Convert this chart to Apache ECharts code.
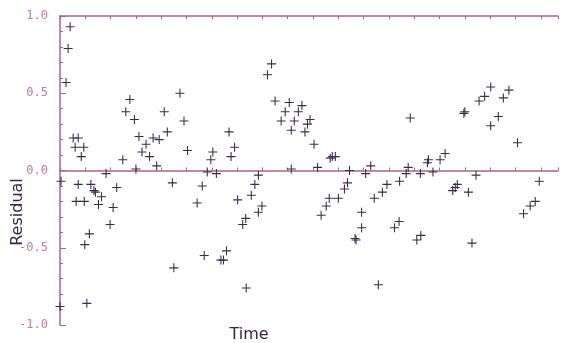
<!DOCTYPE html>
<html>
<head>
<meta charset="utf-8">
<script src="https://cdn.jsdelivr.net/npm/echarts@6/dist/echarts.min.js"></script>
<style>
  html, body { margin: 0; padding: 0; background: #fff; }
  #chart { width: 562px; height: 343px; }
</style>
</head>
<body>
<div id="chart"></div>
<script>
// residuals, in time order
const time = [
  0.0, 0.2, 1.2, 1.6, 2.0, 2.6, 3.0, 3.2, 3.6, 3.6, 4.2, 4.7, 4.8, 4.9, 5.3, 5.8,
  6.1, 6.7, 7.0, 7.6, 8.2, 9.1, 9.9, 10.5, 11.2, 12.4, 13.0, 13.8, 14.7, 15.0, 15.6,
  16.2, 17.0, 17.7, 18.4, 19.1, 19.6, 20.6, 21.2, 22.2, 22.5, 23.7, 24.5, 25.2,
  27.1, 28.1, 28.5, 29.1, 29.8, 30.2, 30.9, 31.8, 32.3, 32.9, 33.4, 33.8, 34.5,
  35.1, 36.1, 36.7, 36.8, 37.8, 38.5, 39.2, 39.2, 39.9, 41.0, 41.8, 42.5, 43.7,
  44.5, 45.3, 45.7, 45.7, 46.3, 47.1, 47.8, 48.4, 48.9, 49.4, 50.2, 50.9, 51.6,
  52.6, 53.2, 53.4, 53.8, 54.4, 55.0, 56.2, 56.8, 57.2, 58.3, 58.5, 59.6, 59.6,
  60.4, 61.4, 62.1, 62.9, 63.7, 64.6, 66.1, 67.0, 67.1, 68.4, 68.8, 69.2, 70.5,
  71.2, 71.3, 72.6, 72.8, 73.7, 75.1, 76.1, 77.6, 78.1, 78.5, 79.8, 80.0, 80.7,
  81.4, 82.2, 82.8, 83.9, 85.1, 85.1, 86.6, 87.6, 88.7, 90.4, 91.6, 92.9, 93.9, 94.7
];
const residual = [
  -0.88, -0.07, 0.57, 0.79, 0.93, 0.21, 0.15, -0.20, 0.21, -0.09, 0.09, 0.15, -0.20, -0.48, -0.86, -0.41,
  -0.09, -0.13, -0.14, -0.22, -0.17, -0.02, -0.35, -0.24, -0.11, 0.07, 0.38, 0.46, 0.33, 0.01, 0.22,
  0.12, 0.17, 0.09, 0.21, 0.03, 0.20, 0.38, 0.25, -0.08, -0.63, 0.50, 0.32, 0.13,
  -0.21, -0.10, -0.55, -0.01, 0.07, 0.12, -0.02, -0.58, -0.58, -0.52, 0.25, 0.09, 0.15,
  -0.19, -0.35, -0.31, -0.76, -0.16, -0.09, -0.03, -0.27, -0.23, 0.62, 0.69, 0.45, 0.32,
  0.38, 0.44, 0.26, 0.01, 0.32, 0.38, 0.42, 0.25, 0.30, 0.33, 0.17, 0.02, -0.29,
  -0.23, -0.18, 0.08, 0.09, 0.09, -0.18, -0.12, -0.08, 0.00, -0.44, -0.45, -0.27, -0.37,
  -0.02, 0.03, -0.18, -0.74, -0.14, -0.09, -0.37, -0.33, -0.07, -0.02, 0.02, 0.34, -0.45,
  -0.02, -0.42, 0.05, 0.07, -0.01, 0.07, 0.11, -0.13, -0.11, -0.09, 0.37, 0.38, -0.14,
  -0.47, -0.03, 0.45, 0.48, 0.54, 0.29, 0.35, 0.47, 0.52, 0.18, -0.28, -0.23, -0.20, -0.07
];
const yTicks = [-1.0, -0.5, 0.0, 0.5, 1.0];

const points = time.map((t, i) => [t, residual[i]]);

const axisColor = '#a86688';
const labelColor = '#c27c9e';
const plus = 'path://M4.4,0H5.6V4.4H10V5.6H5.6V10H4.4V5.6H0V4.4H4.4Z';

const xCommon = {
  type: 'value',
  min: 0,
  max: 98.4,
  interval: 5,
  axisLine: { show: true, lineStyle: { color: axisColor, width: 1.5 } },
  axisTick: { show: true, inside: true, length: 3, lineStyle: { color: axisColor } },
  axisLabel: { show: false },
  splitLine: { show: false }
};

const chart = echarts.init(document.getElementById('chart'));
chart.setOption({
  animation: false,
  backgroundColor: '#fff',
  grid: { left: 60, right: 4, top: 16, bottom: 18 },
  xAxis: [
    Object.assign({ position: 'bottom' }, xCommon),
    Object.assign({ position: 'top' }, xCommon)
  ],
  yAxis: {
    type: 'value',
    min: yTicks[0],
    max: yTicks[yTicks.length - 1],
    interval: 0.5,
    axisLine: { show: true, lineStyle: { color: axisColor, width: 1.5 } },
    axisTick: { show: true, inside: true, length: 6, lineStyle: { color: axisColor } },
    minorTick: { show: true, splitNumber: 5, length: 3, lineStyle: { color: axisColor } },
    axisLabel: {
      color: labelColor,
      fontFamily: 'DejaVu Sans Mono',
      fontSize: 12,
      margin: 12,
      formatter: v => v.toFixed(1)
    },
    splitLine: { show: false }
  },
  graphic: [
    {
      type: 'text',
      x: 18, y: 212,
      rotation: Math.PI / 2,
      style: {
        text: 'Residual',
        fill: '#3a2440',
        font: '16px "DejaVu Sans"',
        align: 'center',
        verticalAlign: 'middle'
      }
    },
    {
      type: 'text',
      x: 249, y: 335,
      style: {
        text: 'Time',
        fill: '#3a2440',
        font: '16px "DejaVu Sans"',
        align: 'center',
        verticalAlign: 'middle'
      }
    }
  ],
  series: [{
    type: 'scatter',
    data: points,
    symbol: plus,
    symbolSize: 9,
    itemStyle: { color: '#3d2b4d', opacity: 1 }
  }]
});
</script>
</body>
</html>
